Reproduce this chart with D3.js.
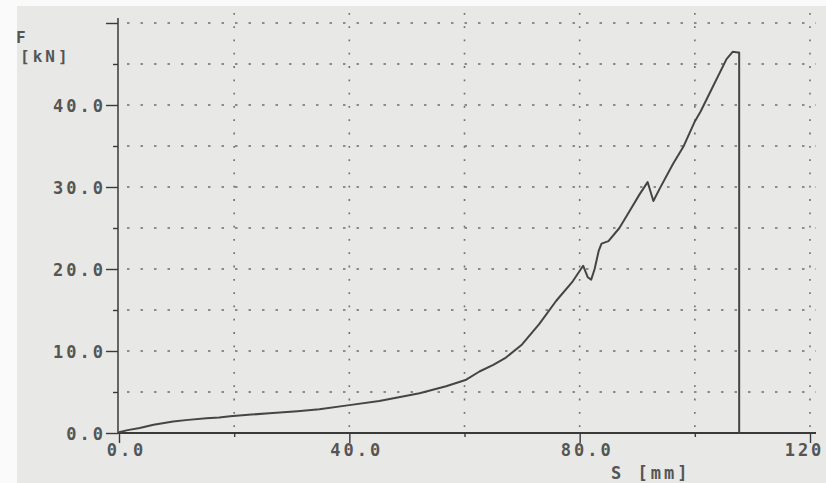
<!DOCTYPE html>
<html>
<head>
<meta charset="utf-8">
<script src="https://d3js.org/d3.v7.min.js"></script>
<style>
  body { margin: 0; background: #fafafa; }
  svg { display: block; }
  .lbl { font-family: "DejaVu Sans Mono", "Liberation Mono", monospace; font-weight: bold; fill: #555; font-size: 17px; letter-spacing: 3px; }
</style>
</head>
<body>
<svg id="chart" width="826" height="483"></svg>
<script>
// travel S [mm] and force F [kN]
const travel = [0, 1.5, 3.6, 6, 9.4, 12, 15.2, 17.4, 19.3, 23, 26.1, 31, 34.8, 40, 45.2, 52.2, 56.8,
  60.3, 62.6, 65, 67.2, 70, 73, 75.9, 78.8, 80.6, 81.4, 82.0, 82.6, 83.3, 83.8, 85.0, 86.9, 88.7,
  90.4, 91.8, 92.8, 93.9, 96.2, 98.0, 100.0, 101.0, 103.1, 105.5, 106.6, 107.5, 107.7, 107.7];
const force = [0.1, 0.35, 0.6, 1.0, 1.4, 1.6, 1.8, 1.9, 2.05, 2.25, 2.4, 2.65, 2.9, 3.4, 3.9, 4.85, 5.7,
  6.5, 7.5, 8.3, 9.2, 10.8, 13.3, 16.1, 18.5, 20.4, 19.0, 18.7, 20.0, 22.2, 23.1, 23.4, 25.0, 27.1,
  29.1, 30.6, 28.3, 29.8, 32.8, 34.9, 38.0, 39.2, 42.2, 45.6, 46.5, 46.4, 46.4, 0];

const xTicks = [0, 20, 40, 60, 80, 100, 120];
const xLabels = {0: "0.0", 40: "40.0", 80: "80.0", 120: "120"};
const yTicks = [0, 5, 10, 15, 20, 25, 30, 35, 40, 45, 50];
const yLabels = {0: "0.0", 10: "10.0", 20: "20.0", 30: "30.0", 40: "40.0"};

const svg = d3.select("#chart");
const x = d3.scaleLinear().domain([0, 120]).range([119, 810]);
const y = d3.scaleLinear().domain([0, 50]).range([433, 23]);

// photo paper
svg.append("rect").attr("x", 17).attr("y", 6).attr("width", 809).attr("height", 477).attr("fill", "#e8e8e6");

// dotted grid
svg.append("g").selectAll("line").data(yTicks.filter(d => d > 0)).join("line")
  .attr("x1", x(0) + 8).attr("x2", 816)
  .attr("y1", d => y(d)).attr("y2", d => y(d))
  .attr("stroke", "#6e6e6e").attr("stroke-width", 1.6).attr("stroke-dasharray", "2.5,11");
svg.append("g").selectAll("line").data(xTicks.filter(d => d > 0)).join("line")
  .attr("x1", d => x(d)).attr("x2", d => x(d))
  .attr("y1", y(0) - 6).attr("y2", 10)
  .attr("stroke", "#6e6e6e").attr("stroke-width", 1.6).attr("stroke-dasharray", "1.8,11.5");

// axes
const yAxis = d3.axisLeft(y).tickValues(yTicks).tickFormat(d => yLabels[d] || "").tickSize(12).tickSizeOuter(0);
const gy = svg.append("g").attr("transform", `translate(${x(0) - 1},0)`).call(yAxis);
gy.select(".domain").attr("d", `M0,${y(0)}V18`).attr("stroke", "#3a3a3a").attr("stroke-width", 1.5);
gy.selectAll(".tick line").attr("stroke", "#3a3a3a").attr("stroke-width", 1.4)
  .attr("x2", d => d % 10 === 0 ? -12 : -5);
gy.selectAll(".tick text").attr("class", "lbl").attr("x", -12).attr("dy", "0.38em");

const xAxis = d3.axisBottom(x).tickValues(xTicks).tickFormat(d => xLabels[d] || "").tickSize(10).tickSizeOuter(0);
const gx = svg.append("g").attr("transform", `translate(0,${y(0)})`).call(xAxis);
gx.select(".domain").attr("d", `M${x(0) - 1},0H816`).attr("stroke", "#3a3a3a").attr("stroke-width", 2);
gx.selectAll(".tick line").attr("stroke", "#3a3a3a").attr("stroke-width", 1.4)
  .attr("y2", d => d % 40 === 0 ? 10 : 4);
gx.selectAll(".tick text").attr("class", "lbl").attr("y", 23).attr("dy", 0)
  .attr("dx", d => d === 120 ? -6 : 7);

// axis titles
svg.append("text").attr("class", "lbl").attr("x", 16).attr("y", 43).style("font-size", "16px").text("F");
svg.append("text").attr("class", "lbl").attr("x", 20).attr("y", 62).style("font-size", "16px").text("[kN]");
svg.append("text").attr("class", "lbl").attr("x", 611).attr("y", 479).text("S [mm]");

// curve
const line = d3.line().x((d, i) => x(travel[i])).y(d => y(d));
svg.append("path").datum(force)
  .attr("d", line)
  .attr("fill", "none").attr("stroke", "#454545").attr("stroke-width", 2)
  .attr("stroke-linejoin", "round");
</script>
</body>
</html>
